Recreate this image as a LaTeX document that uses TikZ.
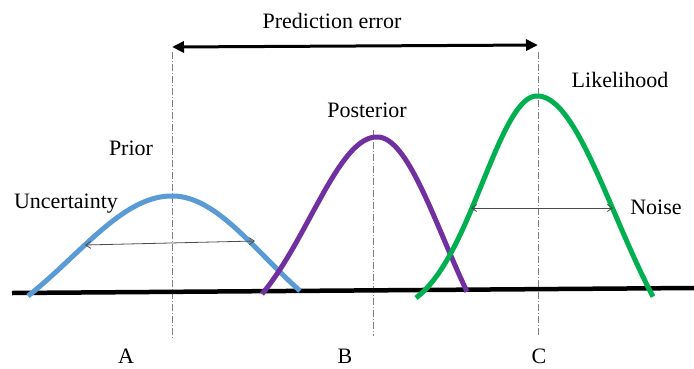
\documentclass[tikz,border=0pt]{standalone}
\usepackage{fontspec}
\setmainfont{Liberation Serif}
\usetikzlibrary{arrows.meta}
\definecolor{priorblue}{HTML}{5B9BD5}
\definecolor{postpurple}{HTML}{7030A0}
\definecolor{likegreen}{HTML}{00B050}
\definecolor{guide}{HTML}{808080}
\begin{document}
\begin{tikzpicture}[x=1pt,y=-1pt,
  lbl/.style={font=\fontsize{22}{26}\selectfont, anchor=base, inner sep=0pt},
  guideline/.style={draw=guide, line width=0.8pt, dash pattern=on 7pt off 2pt on 1pt off 2pt},
  bump/.style={line width=5pt, line join=round, samples=60},
  widtharrow/.style={draw=black!70, line width=0.8pt, {Straight Barb[length=5pt,width=7pt]}-{Straight Barb[length=5pt,width=7pt]}},
  errarrow/.style={line width=3pt, {Triangle[length=12pt,width=11pt]}-{Triangle[length=12pt,width=11pt]}}]
\useasboundingbox (0,0) rectangle (694,368);
% guide lines
\coordinate (Atop) at (172,52); \coordinate (Abot) at (172,338);
\coordinate (Btop) at (373,130); \coordinate (Bbot) at (373,336);
\coordinate (Ctop) at (538,52); \coordinate (Cbot) at (538,336);
\draw[guideline] (Atop) -- (Abot);
\draw[guideline] (Btop) -- (Bbot);
\draw[guideline] (Ctop) -- (Cbot);
% baseline
\coordinate (bl) at (12,293); \coordinate (br) at (694,288);
\draw[line width=4.5pt] (bl) -- (br);
% curves (Gaussian-shaped halves)
\draw[bump, draw=priorblue]
  plot[domain=28:172] (\x,{196+155*(1-exp(-((\x-172)/100)^2/2.0))})
  -- plot[domain=172:300] (\x,{196+155*(1-exp(-((\x-172)/100)^2/1.73))});
\draw[bump, draw=postpurple]
  plot[domain=262:377] (\x,{137+203*(1-exp(-((\x-377)/100)^2/0.8905))})
  -- plot[domain=377:467] (\x,{137+260*(1-exp(-((\x-377)/100)^2/0.8957))});
\draw[bump, draw=likegreen]
  plot[domain=416:537] (\x,{96+221*(1-exp(-((\x-537)/100)^2/0.5978))})
  -- plot[domain=537:653] (\x,{96+300*(1-exp(-((\x-537)/100)^2/1.2175))});
% width arrows
\coordinate (ul) at (85,245); \coordinate (ur) at (255,241);
\draw[widtharrow] (ul) -- (ur);
\coordinate (nl) at (471,208); \coordinate (nr) at (613,208);
\draw[widtharrow] (nl) -- (nr);
% prediction error arrow
\coordinate (pl) at (172,47); \coordinate (pr) at (538,45);
\draw[errarrow] (pl) -- (pr);
% labels
\node[lbl] (pe) at (332,28) {Prediction error};
\node[lbl] (prior) at (131,155) {Prior};
\node[lbl] (post) at (367,117) {Posterior};
\node[lbl] (like) at (620,87) {Likelihood};
\node[lbl] (noise) at (656,214) {Noise};
\node[lbl] (unc) at (66,208) {Uncertainty};
\node[lbl] (A) at (126,363) {A};
\node[lbl] (B) at (345,363) {B};
\node[lbl] (C) at (539,363) {C};
\end{tikzpicture}
\end{document}
